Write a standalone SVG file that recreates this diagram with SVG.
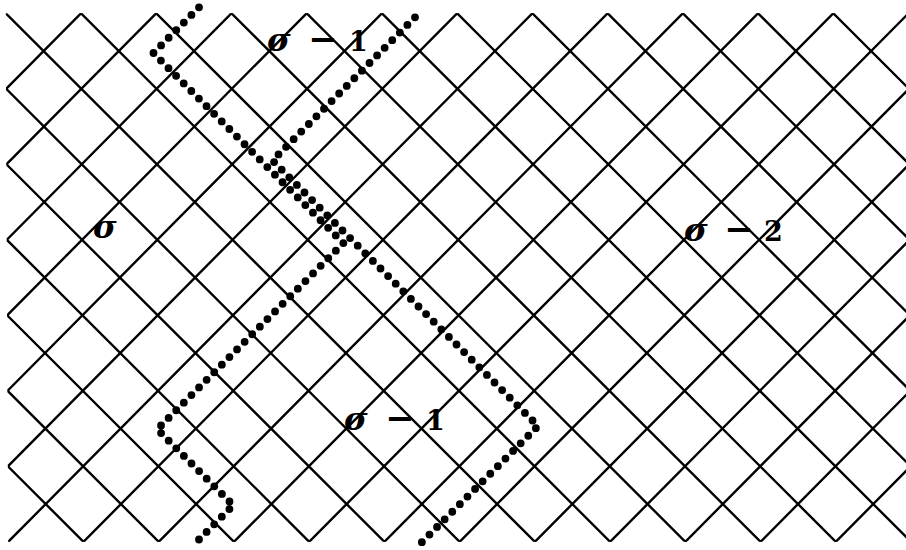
<svg xmlns="http://www.w3.org/2000/svg" width="906" height="550" viewBox="0 0 906 550">
<defs>
<clipPath id="clip"><rect x="5.77" y="13.3" width="910" height="528.5"/></clipPath>
<style>
.lat{fill:none;stroke:#000;stroke-width:2.4}
.dots{fill:none;stroke:#000;stroke-width:7.8;stroke-linecap:round;stroke-linejoin:round;stroke-dasharray:0 10.75}
.sig{font-family:"DejaVu Serif","Liberation Serif",serif;font-weight:bold;font-style:italic;font-size:32px}
.num{font-family:"DejaVu Serif","Liberation Serif",serif;font-weight:bold;font-size:27px}
.minus{font-family:"DejaVu Sans","Liberation Sans",sans-serif;font-weight:bold;font-size:35px}
</style>
</defs>
<rect width="906" height="550" fill="#fff"/>
<g id="lattice" transform="matrix(1 0 0.00473 1 -0.0629 0)">
<g clip-path="url(#clip)">
<path class="lat" d="M-558.455 -24.45l601.84 604M-483.225 -24.45l601.84 604M-407.995 -24.45l601.84 604M-332.765 -24.45l601.84 604M-257.535 -24.45l601.84 604M-182.305 -24.45l601.84 604M-107.075 -24.45l601.84 604M-31.845 -24.45l601.84 604M43.385 -24.45l601.84 604M118.615 -24.45l601.84 604M193.845 -24.45l601.84 604M269.075 -24.45l601.84 604M344.305 -24.45l601.84 604M419.535 -24.45l601.84 604M494.765 -24.45l601.84 604M569.995 -24.45l601.84 604M645.225 -24.45l601.84 604M720.455 -24.45l601.84 604M795.685 -24.45l601.84 604"/>
<path class="lat" d="M118.615 -24.45l-601.84 604M193.845 -24.45l-601.84 604M269.075 -24.45l-601.84 604M344.305 -24.45l-601.84 604M419.535 -24.45l-601.84 604M494.765 -24.45l-601.84 604M569.995 -24.45l-601.84 604M645.225 -24.45l-601.84 604M720.455 -24.45l-601.84 604M795.685 -24.45l-601.84 604M870.915 -24.45l-601.84 604M946.145 -24.45l-601.84 604M1021.375 -24.45l-601.84 604M1096.605 -24.45l-601.84 604M1171.835 -24.45l-601.84 604M1247.065 -24.45l-601.84 604M1322.295 -24.45l-601.84 604M1397.525 -24.45l-601.84 604"/>
</g>
</g>
<g id="connectors">
<path id="path1" class="dots" d="M199 7.3L153.4 53.1L343.4 243.1L157.25 429.25L233.25 505.25L195.5 543"/>
<path id="path2" class="dots" d="M415 17.3L272.5 160.5L538 426L421.5 542.5"/>
</g>
<g id="label-top">
<text y="51"><tspan class="sig" x="267">σ</tspan><tspan class="minus" x="308">−</tspan><tspan class="num" x="349">1</tspan></text>
</g>
<g id="label-left">
<text y="238"><tspan class="sig" x="93">σ</tspan></text>
</g>
<g id="label-bottom">
<text y="430"><tspan class="sig" x="344">σ</tspan><tspan class="minus" x="385">−</tspan><tspan class="num" x="426">1</tspan></text>
</g>
<g id="label-right">
<text y="241"><tspan class="sig" x="684">σ</tspan><tspan class="minus" x="724">−</tspan><tspan class="num" x="764">2</tspan></text>
</g>
</svg>
